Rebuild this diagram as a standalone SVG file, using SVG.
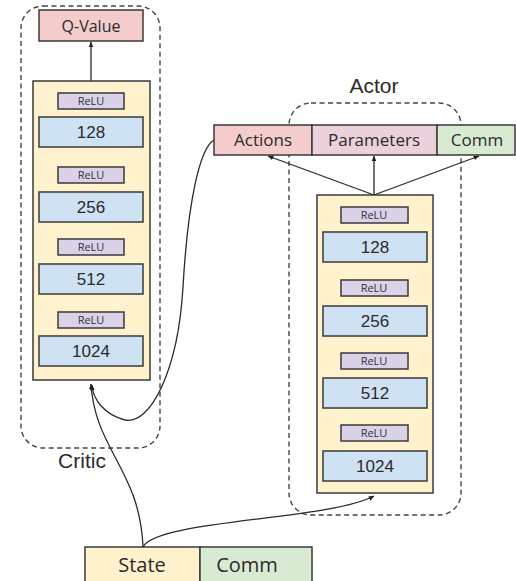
<svg xmlns="http://www.w3.org/2000/svg" width="516" height="581" viewBox="0 0 516 581">
  <defs>
    <marker id="arrow" viewBox="0 0 10 10" refX="9" refY="5" markerWidth="6" markerHeight="6" orient="auto" markerUnits="userSpaceOnUse">
      <path d="M0,1 L10,5 L0,9 z" fill="#222"/>
    </marker>
    <style>
      .group { fill: none; stroke: #444; stroke-width: 1.4; stroke-dasharray: 5 3.5; }
      .box { stroke: #3a3a3a; stroke-width: 1.5; }
      .stack { fill: #fff2cc; }
      .dense { fill: #cfe2f3; }
      .relu { fill: #d9d2e9; }
      .pink { fill: #f4cccc; }
      .mauve { fill: #ead1dc; }
      .green { fill: #d9ead3; }
      .wire { fill: none; stroke: #2a2a2a; stroke-width: 1.3; }
      .num { font-family: "Liberation Sans", Arial, sans-serif; font-size: 17px; fill: #2b2b2b; text-anchor: middle; }
      .act { font-family: "Open Sans", "DejaVu Sans", sans-serif; font-size: 11px; fill: #333; text-anchor: middle; }
      .out { font-family: "Open Sans", "DejaVu Sans", sans-serif; font-size: 17px; fill: #2b2b2b; text-anchor: middle; }
      .caption { font-family: "Liberation Sans", Arial, sans-serif; font-size: 21px; fill: #2b2b2b; text-anchor: middle; }
    </style>
  </defs>

  <rect x="0" y="0" width="516" height="581" fill="#ffffff"/>

  <!-- group outlines -->
  <g id="critic-group">
    <rect class="group" x="21" y="6" width="139" height="442" rx="22"/>
    <text class="caption" x="82" y="468">Critic</text>
  </g>
  <g id="actor-group">
    <rect class="group" x="289" y="103" width="172" height="412" rx="22"/>
    <text class="caption" x="374" y="93">Actor</text>
  </g>

  <!-- connectors -->
  <g id="connectors">
    <!-- critic spine -->
    <line class="wire" x1="91" y1="380" x2="91" y2="81"/>
    <line class="wire" x1="91" y1="81" x2="91" y2="42" marker-end="url(#arrow)"/>
    <!-- actor spine and heads -->
    <line class="wire" x1="374" y1="493" x2="374" y2="195"/>
    <line class="wire" x1="374" y1="195" x2="268" y2="156" marker-end="url(#arrow)"/>
    <line class="wire" x1="374" y1="195" x2="374" y2="156" marker-end="url(#arrow)"/>
    <line class="wire" x1="374" y1="195" x2="479" y2="156" marker-end="url(#arrow)"/>
    <!-- state into both networks -->
    <path class="wire" d="M143,547 C140,470 95,450 91,384" marker-end="url(#arrow)"/>
    <path class="wire" d="M143,547 C155,520 330,520 374,496" marker-end="url(#arrow)"/>
    <!-- actions into critic -->
    <path class="wire" d="M214,140 C200,148 188,200 183,287 C178,372 150,425 125,420 C105,415 93,400 92,385" marker-end="url(#arrow)"/>
  </g>

  <!-- critic network -->
  <g id="critic-stack">
    <rect class="box stack" x="33" y="81" width="117" height="299"/>
  </g>
  <g id="q-value">
    <rect class="box pink" x="39" y="10" width="104" height="31"/>
    <text class="out" x="91" y="32" style="font-size:16px">Q-Value</text>
  </g>
  <g id="critic-relu-1">
    <rect class="box relu" x="58" y="93" width="66" height="16"/>
    <text class="act" x="91" y="105">ReLU</text>
  </g>
  <g id="critic-128">
    <rect class="box dense" x="39" y="117" width="104" height="30"/>
    <text class="num" x="91" y="138">128</text>
  </g>
  <g id="critic-relu-2">
    <rect class="box relu" x="58" y="167" width="66" height="16"/>
    <text class="act" x="91" y="179">ReLU</text>
  </g>
  <g id="critic-256">
    <rect class="box dense" x="39" y="192" width="104" height="30"/>
    <text class="num" x="91" y="213">256</text>
  </g>
  <g id="critic-relu-3">
    <rect class="box relu" x="58" y="239" width="66" height="16"/>
    <text class="act" x="91" y="251">ReLU</text>
  </g>
  <g id="critic-512">
    <rect class="box dense" x="39" y="264" width="104" height="30"/>
    <text class="num" x="91" y="285">512</text>
  </g>
  <g id="critic-relu-4">
    <rect class="box relu" x="58" y="312" width="66" height="16"/>
    <text class="act" x="91" y="324">ReLU</text>
  </g>
  <g id="critic-1024">
    <rect class="box dense" x="39" y="336" width="104" height="30"/>
    <text class="num" x="91" y="357">1024</text>
  </g>

  <!-- actor outputs -->
  <g id="actions">
    <rect class="box pink" x="214" y="125" width="98" height="30"/>
    <text class="out" x="263" y="146">Actions</text>
  </g>
  <g id="parameters">
    <rect class="box mauve" x="312" y="125" width="125" height="30"/>
    <text class="out" x="374" y="146">Parameters</text>
  </g>
  <g id="actor-comm">
    <rect class="box green" x="437" y="125" width="78" height="30"/>
    <text class="out" x="477" y="146">Comm</text>
  </g>

  <!-- actor network -->
  <g id="actor-stack">
    <rect class="box stack" x="317" y="195" width="116" height="298"/>
  </g>
  <g id="actor-relu-1">
    <rect class="box relu" x="341" y="207" width="67" height="16"/>
    <text class="act" x="374" y="219">ReLU</text>
  </g>
  <g id="actor-128">
    <rect class="box dense" x="323" y="232" width="104" height="30"/>
    <text class="num" x="375" y="253">128</text>
  </g>
  <g id="actor-relu-2">
    <rect class="box relu" x="341" y="280" width="67" height="16"/>
    <text class="act" x="374" y="292">ReLU</text>
  </g>
  <g id="actor-256">
    <rect class="box dense" x="323" y="306" width="104" height="30"/>
    <text class="num" x="375" y="327">256</text>
  </g>
  <g id="actor-relu-3">
    <rect class="box relu" x="341" y="353" width="67" height="16"/>
    <text class="act" x="374" y="365">ReLU</text>
  </g>
  <g id="actor-512">
    <rect class="box dense" x="323" y="378" width="104" height="30"/>
    <text class="num" x="375" y="399">512</text>
  </g>
  <g id="actor-relu-4">
    <rect class="box relu" x="341" y="425" width="67" height="16"/>
    <text class="act" x="374" y="437">ReLU</text>
  </g>
  <g id="actor-1024">
    <rect class="box dense" x="323" y="451" width="104" height="30"/>
    <text class="num" x="375" y="472">1024</text>
  </g>

  <!-- inputs -->
  <g id="state">
    <rect class="box stack" x="85" y="547" width="115" height="36"/>
    <text class="out" x="142" y="572" style="font-size:20px">State</text>
  </g>
  <g id="input-comm">
    <rect class="box green" x="200" y="547" width="112" height="36"/>
    <text class="out" x="247" y="572" style="font-size:20px">Comm</text>
  </g>
</svg>
